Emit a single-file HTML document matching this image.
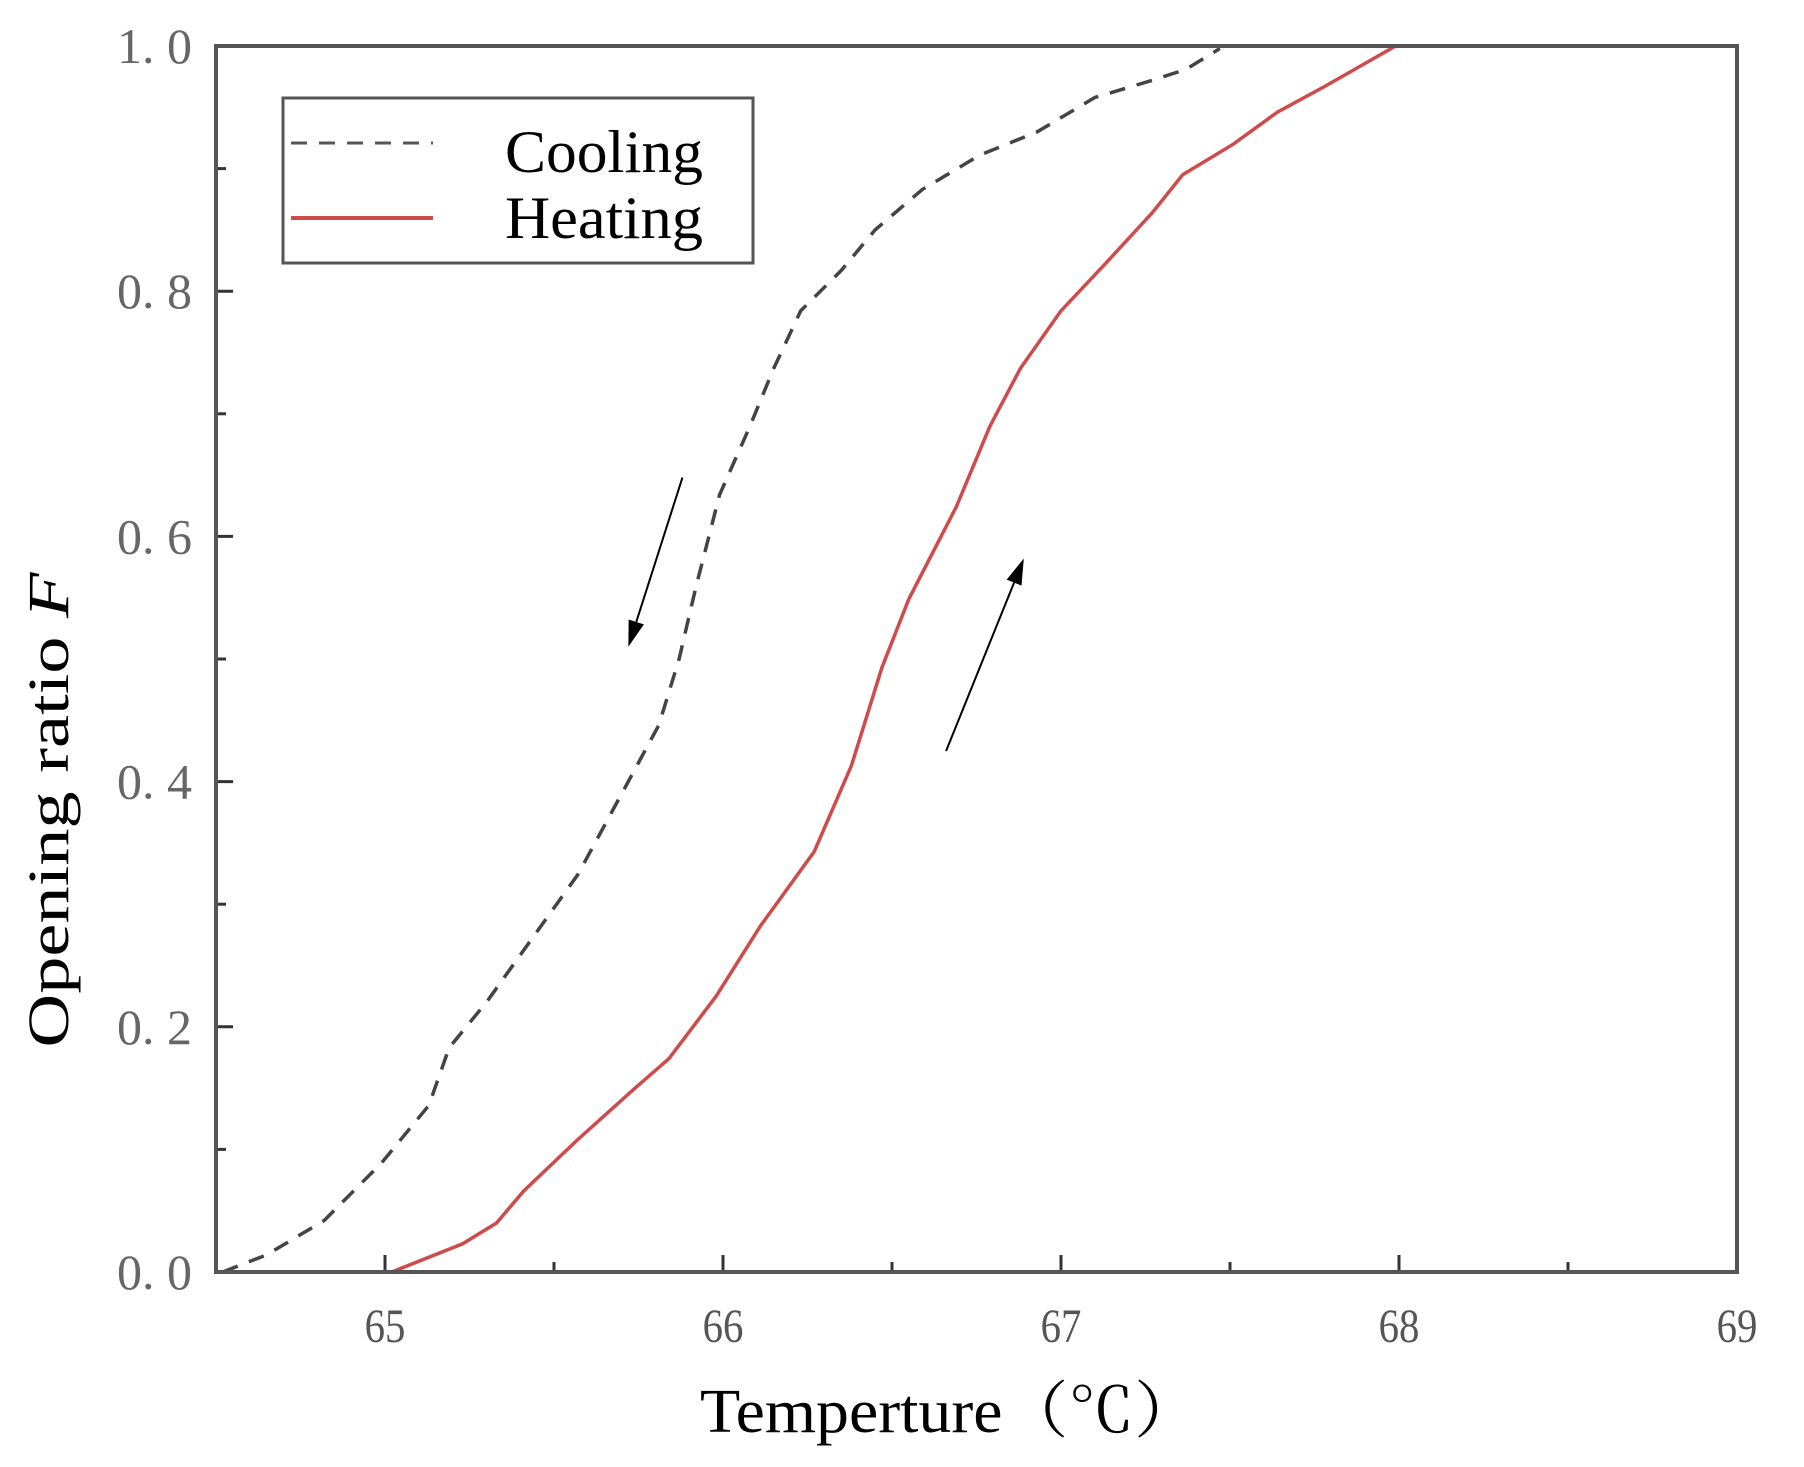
<!DOCTYPE html>
<html><head><meta charset="utf-8"><style>
html,body{margin:0;padding:0;background:#fff;}
svg{display:block;}
</style></head><body>
<svg id="chart" width="1804" height="1467" viewBox="0 0 1804 1467" xmlns="http://www.w3.org/2000/svg">
<g id="plot"></g>
</svg>
<script>
const coolingX=[64.52,64.65,64.82,64.99,65.13,65.19,65.30,65.43,65.57,65.70,65.81,65.87,65.92,65.99,66.08,66.15,66.23,66.35,66.45,66.59,66.76,66.93,67.10,67.27,67.37,67.47];
const coolingY=[0,0.014,0.042,0.089,0.136,0.183,0.22,0.27,0.324,0.39,0.446,0.50,0.559,0.634,0.69,0.737,0.784,0.817,0.85,0.883,0.911,0.93,0.958,0.972,0.981,0.998];
const heatingX=[65.02,65.23,65.33,65.41,65.57,65.74,65.84,65.98,66.11,66.27,66.38,66.47,66.55,66.69,66.79,66.88,67.00,67.13,67.27,67.36,67.51,67.64,67.78,67.99];
const heatingY=[0,0.023,0.04,0.066,0.108,0.15,0.174,0.225,0.282,0.343,0.413,0.493,0.549,0.624,0.69,0.737,0.784,0.822,0.864,0.895,0.92,0.946,0.967,1.0];
const xTicks=[65,66,67,68,69];
const xMinor=[64.5,65.5,66.5,67.5,68.5];
const yTicks=[0,0.2,0.4,0.6,0.8,1.0];
const yTickLabels=["0. 0","0. 2","0. 4","0. 6","0. 8","1. 0"];
const yMinor=[0.1,0.3,0.5,0.7,0.9];
const arrowDown=[[65.88,0.648],[65.72,0.510]];
const arrowUp=[[66.66,0.425],[66.89,0.582]];

const L=216,R=1737,T=46,B=1272;
const xMin=64.5,xMax=69,yMin=0,yMax=1;
function sx(v){return L+(v-xMin)/(xMax-xMin)*(R-L);}
function sy(v){return B-(v-yMin)/(yMax-yMin)*(B-T);}
const NS="http://www.w3.org/2000/svg";
const g=document.getElementById('plot');
function mk(tag,attrs,parent){const e=document.createElementNS(NS,tag);for(const k in attrs)e.setAttribute(k,attrs[k]);(parent||g).appendChild(e);return e;}
const numFont='"Liberation Serif","Noto Serif CJK SC",serif';

xTicks.forEach((t,i)=>{
  const tk=mk('line',{x1:sx(t),x2:sx(t),y1:B,y2:B-17,stroke:'#333','stroke-width':3});
  
  
  const lb=mk('text',{x:sx(t),y:1342,'text-anchor':'middle','font-size':48,fill:'#555','font-family':numFont,transform:'translate('+sx(t)+',0) scale(0.85,1) translate('+(-sx(t))+',0)'});
  lb.textContent=t;
  
  
});
xMinor.forEach(t=>{
  const tk=mk('line',{x1:sx(t),x2:sx(t),y1:B,y2:B-10,stroke:'#333','stroke-width':3});
  
  
});
yTicks.forEach((t,i)=>{
  const tk=mk('line',{x1:L,x2:L+17,y1:sy(t),y2:sy(t),stroke:'#333','stroke-width':3});
  
  
  const lb=mk('text',{x:192,y:sy(t)+17,'text-anchor':'end','font-size':50,fill:'#666','font-family':numFont});
  lb.textContent=yTickLabels[i];
  
  
});
yMinor.forEach(t=>{
  const tk=mk('line',{x1:L,x2:L+10,y1:sy(t),y2:sy(t),stroke:'#333','stroke-width':3});
  
  
});

function pts(xs,ys){return xs.map((x,i)=>sx(x).toFixed(1)+','+sy(ys[i]).toFixed(1)).join(' ');}
const cool=mk('polyline',{points:pts(coolingX,coolingY),fill:'none',stroke:'#444','stroke-width':3.5,'stroke-dasharray':'16,12'});


const heat=mk('polyline',{points:pts(heatingX,heatingY),fill:'none',stroke:'#cf4a4a','stroke-width':3.5});



function arrow(a,name){
  const x1=sx(a[0][0]),y1=sy(a[0][1]),x2=sx(a[1][0]),y2=sy(a[1][1]);
  const ang=Math.atan2(y2-y1,x2-x1),h=26,w=8;
  const bx=x2-h*Math.cos(ang),by=y2-h*Math.sin(ang);
  const grp=mk('g',{});
  
  
  mk('line',{x1:x1,y1:y1,x2:bx,y2:by,stroke:'#000','stroke-width':2},grp);
  const p=[[x2,y2],[bx+w*Math.sin(ang),by-w*Math.cos(ang)],[bx-w*Math.sin(ang),by+w*Math.cos(ang)]];
  mk('polygon',{points:p.map(q=>q.join(',')).join(' '),fill:'#000'},grp);
}
arrow(arrowDown,'cooling-arrow');
arrow(arrowUp,'heating-arrow');

const fr=mk('rect',{x:L,y:T,width:R-L,height:B-T,fill:'none',stroke:'#555','stroke-width':4});



const lg=mk('g',{});


mk('rect',{x:283,y:98,width:470,height:165,fill:'#fff',stroke:'#555','stroke-width':3},lg);
mk('line',{x1:291,x2:433,y1:143,y2:143,stroke:'#555','stroke-width':3,'stroke-dasharray':'16,12'},lg);
mk('line',{x1:291,x2:433,y1:218,y2:218,stroke:'#cf4a4a','stroke-width':4},lg);
const t1=mk('text',{x:505,y:172,'font-size':60,fill:'#000','font-family':'"Liberation Serif",serif',textLength:198,lengthAdjust:'spacingAndGlyphs'},lg);
t1.textContent='Cooling';


const t2=mk('text',{x:505,y:238,'font-size':60,fill:'#000','font-family':'"Liberation Serif",serif',textLength:198,lengthAdjust:'spacingAndGlyphs'},lg);
t2.textContent='Heating';



const xt=mk('text',{x:950,y:1432,'text-anchor':'middle','font-size':62,fill:'#000','font-family':numFont,textLength:500,lengthAdjust:'spacingAndGlyphs'});
xt.textContent='Temperture（℃）';


const yt=mk('text',{x:0,y:0,'text-anchor':'middle','font-size':58,fill:'#000','font-family':'"Liberation Serif",serif',textLength:475,lengthAdjust:'spacingAndGlyphs',transform:'translate(68,810) rotate(-90)'});
yt.innerHTML='Opening ratio <tspan font-style="italic">F</tspan>';


</script>
</body></html>
